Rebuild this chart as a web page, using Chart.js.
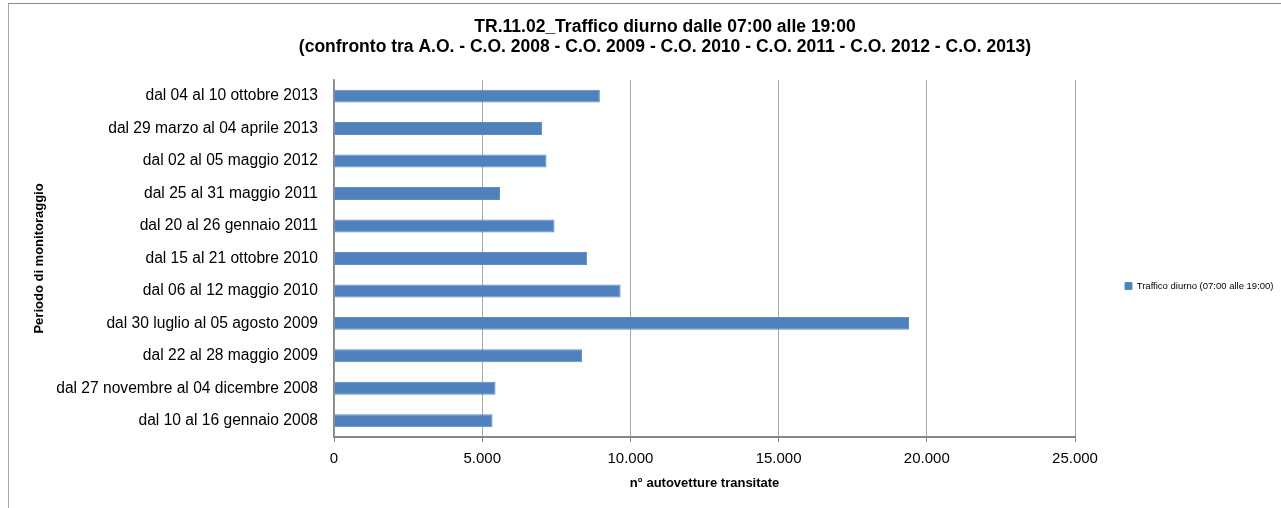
<!DOCTYPE html>
<html lang="it">
<head>
    <title>TR.11.02 Traffico diurno</title>
    <meta charset="UTF-8">
    <script src="https://cdn.jsdelivr.net/npm/chart.js@4/dist/chart.umd.min.js"></script>
    <style>
        body {margin:0;padding:0;background:#fff;}
        #wrap {position:relative;width:1281px;height:508px;overflow:hidden;}
        #frame {position:absolute;left:8px;top:3px;width:1281px;height:520px;border-top:1px solid #8a8a8a;border-left:1px solid #a8a8a8;}
        canvas {position:absolute;left:0;top:0;}
    </style>
</head>
<body>
<div id="wrap">
    <div id="frame"></div>
    <canvas id="trafficChart" width="1281" height="508"></canvas>
</div>
<script>
    // periodi di monitoraggio (dall'alto verso il basso)
    const categories = [
        'dal 04 al 10 ottobre 2013',
        'dal 29 marzo al 04 aprile 2013',
        'dal 02 al 05 maggio 2012',
        'dal 25 al 31 maggio 2011',
        'dal 20 al 26 gennaio 2011',
        'dal 15 al 21 ottobre 2010',
        'dal 06 al 12 maggio 2010',
        'dal 30 luglio al 05 agosto 2009',
        'dal 22 al 28 maggio 2009',
        'dal 27 novembre al 04 dicembre 2008',
        'dal 10 al 16 gennaio 2008'
    ];
    const trafficoDiurno = [8970, 7020, 7170, 5600, 7440, 8540, 9670, 19400, 8370, 5450, 5350];
    const xTicks = [0, 5000, 10000, 15000, 20000, 25000];

    const fmt = (v) => String(v).replace(/\B(?=(\d{3})+(?!\d))/g, '.');

    Chart.defaults.font.family = '"Liberation Sans", Arial, sans-serif';
    Chart.defaults.color = '#000';

    // sposta la legenda un po' piu' in basso, come nell'originale
    const legendShift = {
        id: 'legendShift',
        afterLayout(chart) {
            chart.legend.top += 35;
            chart.legend.bottom += 35;
        }
    };

    let ctx = document.getElementById('trafficChart');
    let trafficChart = new Chart(ctx, {
        type: 'bar',
        data: {
            labels: categories,
            datasets: [{
                label: 'Traffico diurno (07:00 alle 19:00)',
                data: trafficoDiurno,
                backgroundColor: '#4F81BD',
                borderColor: '#5f8cc3',
                borderWidth: 1,
                borderSkipped: 'left',
                barPercentage: 0.4,
                categoryPercentage: 1.0
            }]
        },
        plugins: [legendShift],
        options: {
            indexAxis: 'y',
            responsive: false,
            animation: false,
            layout: {padding: {left: 28, top: 4, right: -21, bottom: 10}},
            plugins: {
                title: {
                    display: true,
                    text: ['TR.11.02_Traffico diurno dalle 07:00 alle 19:00',
                           '(confronto tra A.O. - C.O. 2008 - C.O. 2009 - C.O. 2010 - C.O. 2011 - C.O. 2012 - C.O. 2013)'],
                    font: {size: 17.5, weight: 'bold', lineHeight: 1.18},
                    color: '#000',
                    padding: {top: 12.6, bottom: 22}
                },
                legend: {
                    position: 'right',
                    maxWidth: 206,
                    labels: {
                        boxWidth: 7,
                        boxHeight: 7,
                        padding: 50,
                        font: {size: 9.5},
                        color: '#000'
                    }
                },
                tooltip: {enabled: false}
            },
            scales: {
                x: {
                    min: 0,
                    max: 25000,
                    afterBuildTicks(scale) {
                        scale.ticks = xTicks.map(v => ({value: v}));
                    },
                    afterFit(scale) {
                        scale.height = 61;
                        scale.paddingRight = 206;
                    },
                    grid: {color: '#a6a6a6', tickLength: 5, tickColor: '#8c8c8c'},
                    border: {color: '#868686', width: 2},
                    ticks: {
                        padding: 8,
                        font: {size: 15},
                        callback: (v) => fmt(v)
                    },
                    title: {
                        display: true,
                        text: 'n° autovetture transitate',
                        font: {size: 13, weight: 'bold'},
                        padding: {top: 0, bottom: 7}
                    }
                },
                y: {
                    afterFit(scale) {
                        scale.width = 306;
                    },
                    grid: {display: false, drawTicks: false},
                    border: {display: true, color: '#868686', width: 1.5},
                    ticks: {
                        autoSkip: false,
                        padding: 16,
                        font: {size: 15.6}
                    },
                    title: {
                        display: true,
                        text: 'Periodo di monitoraggio',
                        font: {size: 13, weight: 'bold'},
                        padding: {top: 4, bottom: 4}
                    }
                }
            }
        }
    });
</script>
</body>
</html>
